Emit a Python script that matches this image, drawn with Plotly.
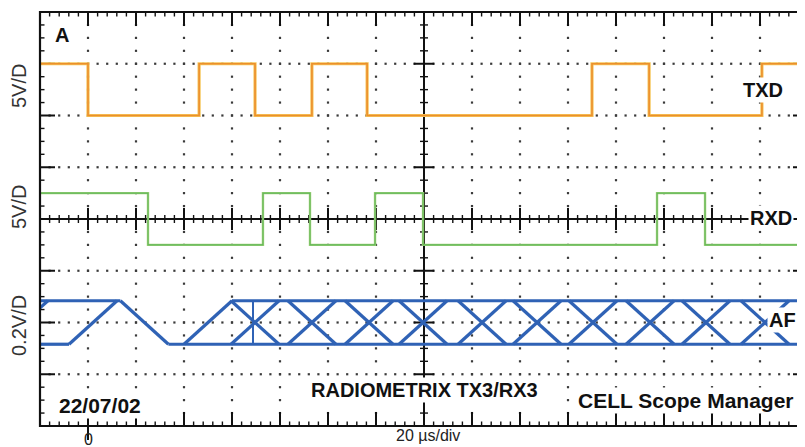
import numpy as np
import plotly.graph_objects as go

# ---------------- data ----------------
# time axis in microseconds (20 us/div, trigger "0" one division from the left)
t_left, t_right = -20.0, 300.0
# vertical axis in screen divisions
y_bottom, y_top = -4.0, 4.0

# TXD (5 V/div) : level in divisions, edges in us
txd_high, txd_low = 3.0, 2.0
txd_edges = [0.0, 46.3, 69.6, 93.3, 116.3, 210.0, 233.8, 280.8]

# RXD (5 V/div)
rxd_high, rxd_low = 0.5, -0.5
rxd_edges = [25.0, 72.9, 92.5, 119.6, 139.6, 237.1, 257.1]

# AF (0.2 V/div) eye pattern
af_high, af_low = -1.58, -2.42
af_rise_early = [-26.7, 2.1, 50.0]
af_fall_early = [23.5]
af_cross = [69.6, 93.3, 117.1, 139.6, 164.2, 187.1, 210.4, 234.2, 257.5, 282.1, 305.8]
af_top_start, af_top_end = [-20.0, 60.0], [13.5, 300.0]
af_bot_start, af_bot_end = [-20.0, 33.5], [-7.9, 300.0]
af_glitch = [68.75]
af_half = 10.0

# ---------------- layout geometry ----------------
OFF = 8                     # default page body margin
W, H = 805 - OFF, 447 - OFF
ml, mr, mt, mb = 40 - OFF, 0, 12 - OFF, 447 - 418 - OFF
pw, ph = W - ml - mr, H - mt - mb
px_x = 48.0 / 20.0              # px per us
px_y = ph / (y_top - y_bottom)  # px per div
x_view = [t_left, t_left + pw / px_x]

def ux(p):
    return p / px_x

def uy(p):
    return p / px_y

fig = go.Figure()

# ---------------- grid: dotted lines ----------------
major_x = np.arange(t_left, t_right + 0.1, 20.0)
minor_x = np.arange(t_left, t_right + 0.1, 4.0)
major_y = np.arange(y_bottom, y_top + 0.01, 1.0)
minor_y = np.arange(y_bottom, y_top + 0.01, 0.25)
x_center, y_center = 140.0, 0.0

dx, dy = [], []
for mx in major_x:
    if mx in (t_left, t_right, x_center):
        continue
    for my in minor_y[1:-1]:
        dx.append(mx); dy.append(my)
for my in major_y:
    if my in (y_bottom, y_top, y_center):
        continue
    for mx in minor_x[1:-1]:
        dx.append(mx); dy.append(my)
fig.add_trace(go.Scatter(x=dx, y=dy, mode="markers",
                         marker=dict(symbol="square", size=2.2, color="#3a3a3a"),
                         hoverinfo="skip", showlegend=False))

# ---------------- ticks ----------------
minor_sx, minor_sy = [], []
major_sx, major_sy = [], []

def add(xs, ys, a, b):
    xs += [a[0], b[0], None]
    ys += [a[1], b[1], None]

def is_major_x(v):
    k = (v - t_left) / 20.0
    return abs(k - round(k)) < 1e-6

def is_major_y(v):
    return abs(v - round(v)) < 1e-6

for v in minor_x:
    if is_major_x(v):
        add(major_sx, major_sy, (v, y_top), (v, y_top - uy(14)))
        add(major_sx, major_sy, (v, y_bottom), (v, y_bottom + uy(14)))
        add(major_sx, major_sy, (v, y_center - uy(11)), (v, y_center + uy(11)))
    else:
        add(minor_sx, minor_sy, (v, y_top), (v, y_top - uy(4.5)))
        add(minor_sx, minor_sy, (v, y_bottom), (v, y_bottom + uy(4.5)))
        add(minor_sx, minor_sy, (v, y_center - uy(4)), (v, y_center + uy(4)))

for v in minor_y:
    if is_major_y(v):
        add(major_sx, major_sy, (t_left, v), (t_left + ux(15), v))
        add(major_sx, major_sy, (t_right, v), (t_right - ux(15), v))
        add(major_sx, major_sy, (x_center - ux(10), v), (x_center + ux(10), v))
    else:
        add(minor_sx, minor_sy, (t_left, v), (t_left + ux(4.5), v))
        add(minor_sx, minor_sy, (t_right, v), (t_right - ux(4.5), v))
        add(minor_sx, minor_sy, (x_center - ux(4), v), (x_center + ux(4), v))

# center cross lines
add(major_sx, major_sy, (t_left, y_center), (t_right, y_center))
add(major_sx, major_sy, (x_center, y_bottom), (x_center, y_top))

fig.add_trace(go.Scatter(x=minor_sx, y=minor_sy, mode="lines",
                         line=dict(color="#111", width=1.4),
                         hoverinfo="skip", showlegend=False))
fig.add_trace(go.Scatter(x=major_sx, y=major_sy, mode="lines",
                         line=dict(color="#111", width=2),
                         hoverinfo="skip", showlegend=False))

# ---------------- signals ----------------
def step_trace(edges, hi, lo, start_high=True):
    xs = [t_left] + list(edges) + [t_right]
    ys = []
    state = start_high
    ys.append(hi if state else lo)
    for _ in edges:
        state = not state
        ys.append(hi if state else lo)
    ys.append(ys[-1])
    return xs, ys

# AF eye pattern
ax, ay = [], []
for s, e in zip(af_top_start, af_top_end):
    ax += [s, e, None]; ay += [af_high, af_high, None]
for s, e in zip(af_bot_start, af_bot_end):
    ax += [s, e, None]; ay += [af_low, af_low, None]
for c in af_rise_early:
    ax += [c - af_half, c + af_half, None]; ay += [af_low, af_high, None]
for c in af_fall_early:
    ax += [c - af_half, c + af_half, None]; ay += [af_high, af_low, None]
for c in af_cross:
    ax += [c - af_half, c + af_half, None]; ay += [af_low, af_high, None]
    ax += [c - af_half, c + af_half, None]; ay += [af_high, af_low, None]
fig.add_trace(go.Scatter(x=ax, y=ay, mode="lines",
                         line=dict(color="#2f62b5", width=3.2),
                         hoverinfo="skip", showlegend=False))
gx, gy = [], []
for g in af_glitch:
    gx += [g, g, None]; gy += [af_high, af_low, None]
fig.add_trace(go.Scatter(x=gx, y=gy, mode="lines",
                         line=dict(color="#2f62b5", width=2),
                         hoverinfo="skip", showlegend=False))

tx, ty = step_trace(txd_edges, txd_high, txd_low, True)
fig.add_trace(go.Scatter(x=tx, y=ty, mode="lines", line_shape="hv",
                         line=dict(color="#f6c65a", width=3.2),
                         hoverinfo="skip", showlegend=False))
fig.add_trace(go.Scatter(x=tx, y=ty, mode="lines", line_shape="hv",
                         line=dict(color="#ec8f2c", width=1.6),
                         hoverinfo="skip", showlegend=False))

rx, ry = step_trace(rxd_edges, rxd_high, rxd_low, True)
fig.add_trace(go.Scatter(x=rx, y=ry, mode="lines", line_shape="hv",
                         line=dict(color="#a6d47a", width=2.4),
                         hoverinfo="skip", showlegend=False))
fig.add_trace(go.Scatter(x=rx, y=ry, mode="lines", line_shape="hv",
                         line=dict(color="#5fb55a", width=1.1),
                         hoverinfo="skip", showlegend=False))

# ---------------- frame ----------------
shapes = [
    dict(type="path", xref="paper", yref="paper",
         path="M 1.05 1 L 0 1 L 0 0 L 1.05 0",
         line=dict(color="#111", width=2.2)),
    dict(type="line", xref="x", yref="paper", x0=0, x1=0, y0=0, y1=-14 / ph,
         line=dict(color="#111", width=2)),
]

# ---------------- labels ----------------
FONT = "Liberation Sans, Arial, sans-serif"

def lab(text, x, y, size=20, bg=None, xref="x", yref="y", angle=0,
        color="#111", xanchor="center"):
    return dict(text=text, x=x, y=y, xref=xref, yref=yref, showarrow=False,
                font=dict(family=FONT, size=size, color=color),
                bgcolor=bg, borderpad=1, textangle=angle, xanchor=xanchor,
                yanchor="middle")

# reference-screenshot pixel -> data / paper coordinates
def px2t(p):
    return (p - OFF - ml) / px_x + t_left

def py2v(p):
    return y_top - (p - OFF - mt) / px_y

def ppx(p):
    return (p - OFF - ml) / pw

def ppy(p):
    return (H - mb - (p - OFF)) / ph

annotations = [
    lab("<b>A</b>", px2t(62), py2v(35), 20),
    lab("<b>TXD</b>", px2t(763), py2v(90), 20, bg="white"),
    lab("<b>RXD</b>", px2t(771), py2v(218), 20, bg="white"),
    lab("<b>AF</b>", px2t(782), py2v(320), 20, bg="white"),
    lab("<b>22/07/02</b>", px2t(100), py2v(405), 21, bg="white"),
    lab("<b>RADIOMETRIX TX3/RX3</b>", px2t(424), py2v(390), 20, bg="white"),
    lab("<b>CELL Scope Manager</b>", px2t(686), py2v(400), 21, bg="white"),
    lab("5V/D", ppx(19), ppy(86), 20, xref="paper", yref="paper",
        angle=-90, color="#333"),
    lab("5V/D", ppx(19), ppy(207), 20, xref="paper", yref="paper",
        angle=-90, color="#333"),
    lab("0.2V/D", ppx(19), ppy(326), 20, xref="paper", yref="paper",
        angle=-90, color="#333"),
    lab("20 \u00b5s/div", ppx(428), ppy(435), 16,
        xref="paper", yref="paper", color="#222"),
    lab("0", ppx(88), ppy(440), 16,
        xref="paper", yref="paper", color="#222"),
]

fig.update_layout(
    width=W, height=H,
    margin=dict(l=ml, r=mr, t=mt, b=mb, pad=0),
    paper_bgcolor="white", plot_bgcolor="white",
    xaxis=dict(range=x_view, visible=False, fixedrange=True),
    yaxis=dict(range=[y_bottom, y_top], visible=False, fixedrange=True),
    shapes=shapes, annotations=annotations, showlegend=False,
)

fig.write_html("out.html")
